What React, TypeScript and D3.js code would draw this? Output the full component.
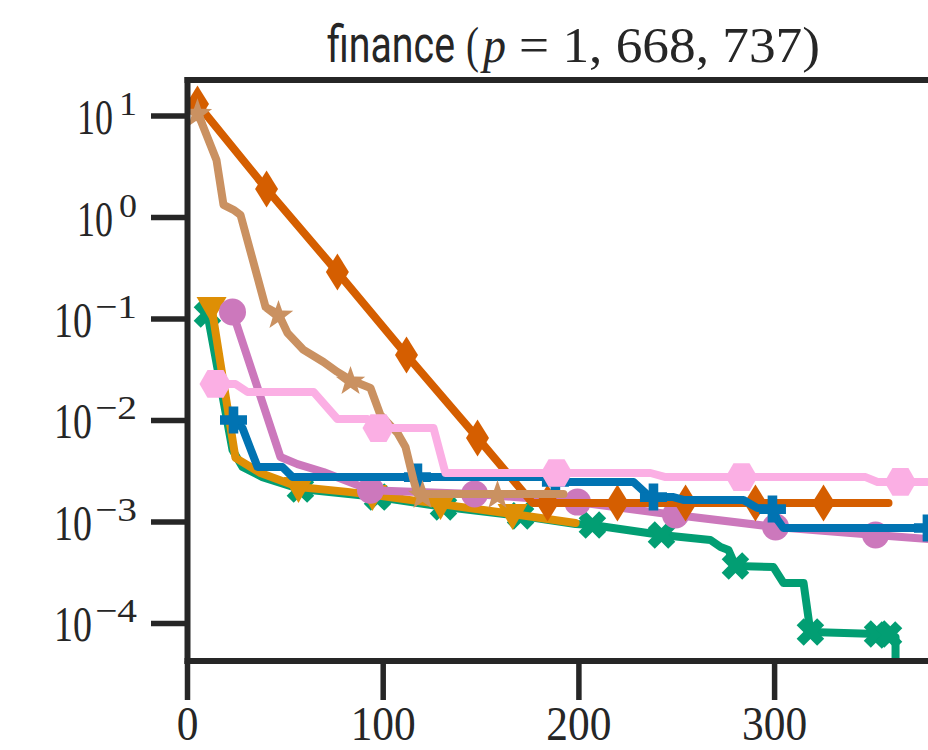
import React from 'react';
import * as d3 from 'd3';

// ---- data: suboptimality vs time for each solver ----
const xTickValues = [0, 100, 200, 300];
const yTickExponents = [1, 0, -1, -2, -3, -4];

const greenT = [10.2, 23.0, 28.1, 38.3, 57.7, 97.1, 130.8, 170.2, 198.3, 206.9, 242.2, 267.2, 272.4, 276.4, 280.0, 299.4, 304.5, 314.8, 318.3, 352.6, 358.2, 361.8, 361.8];
const greenV = [0.112, 0.00512, 0.00348, 0.00277, 0.00211, 0.00176, 0.00141, 0.00115, 0.000955, 0.000934, 0.000745, 0.000665, 0.000567, 0.00053, 0.000369, 0.00036, 0.000251, 0.000251, 0.0000825, 0.0000788, 0.000077, 0.0000736, 0.00001];
const greenMarks = [0, 4, 5, 6, 7, 9, 10, 14, 18, 19, 20];

const orangeT = [12.3, 24.5, 37.3, 56.7, 81.8, 94.5, 129.3, 166.1, 198.3];
const orangeV = [0.131, 0.00428, 0.00304, 0.00221, 0.00198, 0.00185, 0.0015, 0.0012, 0.000977];
const orangeMarks = [0, 3, 5, 6, 7];

const purpleT = [23.0, 47.5, 56.2, 69.5, 93.5, 146.7, 199.3, 249.4, 300.5, 351.6, 384.8];
const purpleV = [0.117, 0.00437, 0.00372, 0.00311, 0.00206, 0.00189, 0.00157, 0.00117, 0.000893, 0.000745, 0.000665];
const purpleMarks = [0, 4, 5, 6, 7, 8, 9];

const redT = [5.1, 40.4, 76.6, 111.9, 148.2, 176.3, 184.0, 219.7, 254.5, 290.2, 325.0, 358.2];
const redV = [13.1, 1.91, 0.29, 0.0442, 0.00673, 0.00154, 0.00154, 0.00154, 0.00154, 0.00154, 0.00154, 0.00154];
const redMarks = [0, 1, 2, 3, 4, 6, 7, 8, 9, 10];

const blueT = [23.5, 28.1, 35.8, 48.5, 53.7, 117.5, 184.0, 186.5, 188.0, 227.9, 235.1, 238.1, 248.3, 253.4, 284.1, 291.3, 298.9, 301.5, 304.5, 378.1, 384.8];
const blueV = [0.0101, 0.00843, 0.00348, 0.00348, 0.00277, 0.00277, 0.00277, 0.00248, 0.00248, 0.00248, 0.00185, 0.00176, 0.00176, 0.00165, 0.00165, 0.00137, 0.00134, 0.00105, 0.000873, 0.000873, 0.000873];
const blueMarks = [0, 5, 8, 11, 16, 19];

const brownT = [5.1, 14.8, 18.4, 23.5, 27.1, 39.9, 46.5, 51.1, 59.3, 69.5, 76.6, 83.3, 93.5, 98.6, 107.3, 111.4, 115.5, 117.5, 120.1, 158.4, 192.1];
const brownV = [10.9, 3.69, 1.33, 1.19, 1.06, 0.131, 0.112, 0.0728, 0.0496, 0.0377, 0.0301, 0.0251, 0.0209, 0.0113, 0.00753, 0.00548, 0.00259, 0.00189, 0.00189, 0.00189, 0.00189];
const brownMarks = [0, 6, 11, 18, 19];

const pinkT = [14.3, 24.5, 30.7, 64.4, 76.6, 92.0, 97.6, 125.7, 131.8, 188.6, 236.6, 244.3, 283.1, 346.5, 352.6, 364.3, 384.8];
const pinkV = [0.0229, 0.0229, 0.0191, 0.0191, 0.01035, 0.01035, 0.00843, 0.00843, 0.00304, 0.00304, 0.00304, 0.00277, 0.00277, 0.00277, 0.00248, 0.00248, 0.00248];
const pinkMarks = [0, 6, 9, 12, 15];

type Marker = 'X' | 'v' | 'o' | 'd' | 'P' | '*' | 'H';
interface Series { t: number[]; v: number[]; marks: number[]; color: string; marker: Marker; }

// drawing order (later series sit on top)
const seriesList: Series[] = [
  { t: greenT, v: greenV, marks: greenMarks, color: '#029e73', marker: 'X' },
  { t: orangeT, v: orangeV, marks: orangeMarks, color: '#de8f05', marker: 'v' },
  { t: purpleT, v: purpleV, marks: purpleMarks, color: '#cc78bc', marker: 'o' },
  { t: redT, v: redV, marks: redMarks, color: '#d55e00', marker: 'd' },
  { t: blueT, v: blueV, marks: blueMarks, color: '#0173b2', marker: 'P' },
  { t: brownT, v: brownV, marks: brownMarks, color: '#ca9161', marker: '*' },
  { t: pinkT, v: pinkV, marks: pinkMarks, color: '#fbafe4', marker: 'H' },
];

// ---- layout ----
const W = 928;
const H = 750;
const left = 187.5;
const top = 80;
const bottom = 661;
const pxPerUnit = 1.957;
const ink = '#262626';
const serif = "'Liberation Serif', 'DejaVu Serif', serif";

const x = d3.scaleLinear().domain([0, 400]).range([left, left + 400 * pxPerUnit]);
const y = d3.scaleLog().domain([10 ** -4.3695, 10 ** 1.3547]).range([bottom, top]);

function markerPath(m: Marker): string {
  const pts = (arr: number[][]) => 'M' + arr.map((p) => p.join(',')).join('L') + 'Z';
  switch (m) {
    case 'd':
      return pts([[0, -18.5], [11.5, 0], [0, 18.5], [-11.5, 0]]);
    case 'o':
      return 'M13.5,0A13.5,13.5 0 1,1 -13.5,0A13.5,13.5 0 1,1 13.5,0Z';
    case 'H': {
      const r = 16;
      return pts(d3.range(6).map((i) => [r * Math.cos((i * Math.PI) / 3), r * Math.sin((i * Math.PI) / 3)]));
    }
    case 'P': {
      const a = 13.5, b = 4.8;
      return pts([[-b, -a], [b, -a], [b, -b], [a, -b], [a, b], [b, b], [b, a], [-b, a], [-b, b], [-a, b], [-a, -b], [-b, -b]]);
    }
    case 'X': {
      const a = 14.5, b = 5;
      const base = [[-b, -a], [b, -a], [b, -b], [a, -b], [a, b], [b, b], [b, a], [-b, a], [-b, b], [-a, b], [-a, -b], [-b, -b]];
      const c = Math.SQRT1_2;
      return pts(base.map(([px, py]) => [c * (px - py), c * (px + py)]));
    }
    case '*': {
      const R = 15.5, r = 6.2;
      return pts(d3.range(10).map((i) => {
        const ang = -Math.PI / 2 + (i * Math.PI) / 5;
        const rr = i % 2 === 0 ? R : r;
        return [rr * Math.cos(ang), rr * Math.sin(ang) + 1.5];
      }));
    }
    case 'v':
      return pts([[-15, -10], [15, -10], [0, 16]]);
  }
  return '';
}

const line = d3
  .line<[number, number]>()
  .x((d) => x(d[0]))
  .y((d) => y(d[1]));

const supText = (e: number) => (e < 0 ? '\u2212' + Math.abs(e) : String(e));

export default function App() {
  return (
    <svg
      width={W}
      height={H}
      viewBox={`0 0 ${W} ${H}`}
      style={{ position: 'absolute', left: 0, top: 0, background: '#ffffff' }}
    >
      <defs>
        <clipPath id="plot-area">
          <rect x={left} y={top} width={W} height={bottom - top} />
        </clipPath>
      </defs>
      <rect x={0} y={0} width={W} height={H} fill="#ffffff" />

      {/* title: "finance (p = 1,668,737)" */}
      <g fill={ink}>
        <text x={327} y={62} fontFamily="Roboto, 'Noto Sans', sans-serif" fontSize={52}
          textLength={128} lengthAdjust="spacingAndGlyphs">finance</text>
        <text x={466} y={62} fontFamily={serif} fontSize={50}
          textLength={13} lengthAdjust="spacingAndGlyphs">(</text>
        <text x={483} y={62} fontFamily={serif} fontSize={50} fontStyle="italic"
          textLength={23} lengthAdjust="spacingAndGlyphs">p</text>
        <text x={519} y={62} fontFamily={serif} fontSize={50}
          textLength={301} lengthAdjust="spacingAndGlyphs">= 1, 668, 737)</text>
      </g>

      {/* series */}
      <g clipPath="url(#plot-area)">
        {seriesList.map((s, si) => {
          const data = s.t.map((t, i) => [t, s.v[i]] as [number, number]);
          const shape = markerPath(s.marker);
          return (
            <g key={si}>
              <path d={line(data) ?? ''} fill="none" stroke={s.color} strokeWidth={8}
                strokeLinecap="round" strokeLinejoin="round" />
              {s.marks.map((mi) => (
                <path key={mi} d={shape} fill={s.color}
                  transform={`translate(${x(data[mi][0])},${y(data[mi][1])})`} />
              ))}
            </g>
          );
        })}
      </g>

      {/* spines */}
      <g stroke={ink} strokeWidth={6}>
        <line x1={left} x2={left} y1={top - 3} y2={bottom + 3} />
        <line x1={left - 3} x2={W + 10} y1={top} y2={top} />
        <line x1={left - 3} x2={W + 10} y1={bottom} y2={bottom} />
      </g>

      {/* y axis */}
      {yTickExponents.map((e) => {
        const ty = y(10 ** e);
        const neg = e < 0;
        return (
          <g key={e}>
            <line x1={151} x2={left} y1={ty} y2={ty} stroke={ink} strokeWidth={5.5} />
            <text x={neg ? 54 : 77} y={ty + 18} fontFamily={serif} fontSize={50}
              fill={ink} textLength={neg ? 38 : 36} lengthAdjust="spacingAndGlyphs">10</text>
            <text x={neg ? 95 : 119} y={ty - 1} fontFamily={serif} fontSize={34}
              fill={ink} textLength={neg ? 42 : 18} lengthAdjust="spacingAndGlyphs">{supText(e)}</text>
          </g>
        );
      })}

      {/* x axis */}
      {xTickValues.map((v) => {
        const tx = x(v);
        const label = String(v);
        return (
          <g key={v}>
            <line x1={tx} x2={tx} y1={bottom} y2={700} stroke={ink} strokeWidth={5.5} />
            <text x={tx} y={740} textAnchor="middle" fontFamily={serif} fontSize={48}
              fill={ink} textLength={21.7 * label.length} lengthAdjust="spacingAndGlyphs">{label}</text>
          </g>
        );
      })}
    </svg>
  );
}
